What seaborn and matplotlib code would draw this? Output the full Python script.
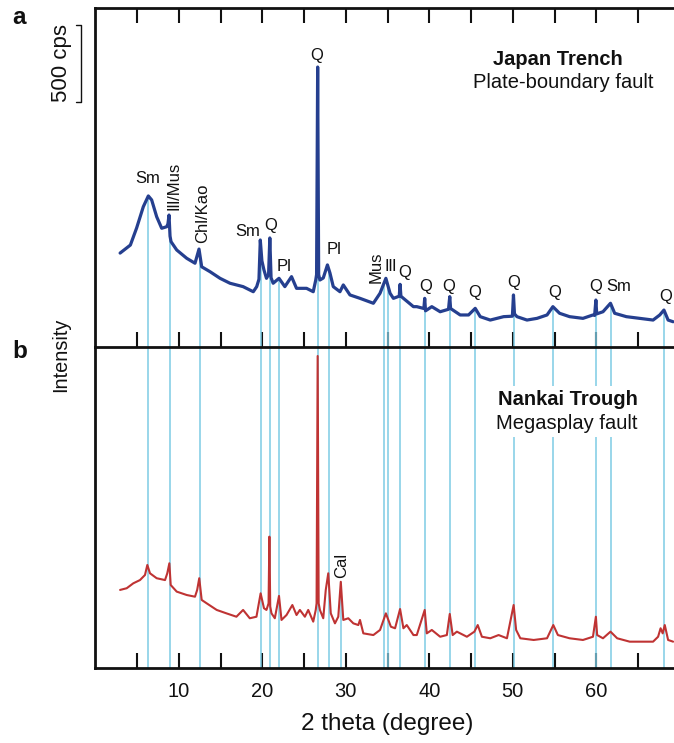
import numpy as np
import pandas as pd
import matplotlib
matplotlib.use("Agg")
import matplotlib.pyplot as plt
from matplotlib.transforms import blended_transform_factory
import seaborn as sns

# ---------------- data ----------------
theta_a = [2.97, 4.2, 4.95, 5.75, 6.35, 6.75, 7.35, 7.95, 8.55, 8.7, 8.83, 8.95, 9.07, 9.75,
           10.95, 11.94, 12.42, 12.74, 13.74, 14.94, 16.13, 17.7, 18.92, 19.33, 19.6, 19.76,
           19.95, 20.2, 20.5, 20.75, 20.9, 21.05, 21.3, 22.0, 22.7, 23.5, 24.1, 25.3, 26.1,
           26.4, 26.5, 26.63, 26.75, 26.9, 27.3, 27.8, 28.1, 28.5, 29.3, 29.7, 30.5, 31.7,
           33.3, 34.1, 34.8, 35.3, 35.7, 36.4, 36.5, 36.6, 36.9, 38.1, 38.5, 39.35, 39.45,
           39.55, 40.3, 41.3, 42.3, 42.45, 42.55, 43.7, 44.7, 45.5, 46.1, 47.3, 48.9, 49.95,
           50.08, 50.2, 50.5, 51.7, 52.9, 54.1, 54.8, 55.6, 56.8, 58.4, 59.6, 59.8, 59.95,
           60.05, 60.8, 61.7, 62.2, 63.6, 65.2, 66.8, 67.6, 68.1, 68.6, 69.2]
counts_a = [610, 662, 773, 911, 981, 955, 846, 771, 781, 800, 857, 720, 684, 630,
            576, 544, 636, 521, 489, 446, 414, 392, 359, 392, 440, 695,
            560, 500, 446, 470, 708, 450, 414, 446, 392, 457, 381, 381, 359,
            435, 470, 1818, 470, 435, 448, 533, 481, 392, 359, 403, 338, 316,
            284, 349, 446, 349, 316, 330, 407, 330, 316, 262, 262, 250, 316,
            235, 262, 229, 245, 327, 250, 208, 208, 251, 197, 175, 197, 200,
            338, 215, 197, 175, 186, 208, 262, 219, 197, 186, 208, 205, 305,
            215, 229, 284, 219, 197, 186, 175, 208, 240, 175, 164]

theta_b = [2.97, 3.76, 4.55, 5.35, 5.95, 6.23, 6.55, 7.35, 8.35, 8.62, 8.87, 9.03, 9.75,
           10.95, 11.94, 12.2, 12.45, 12.74, 13.34, 14.54, 15.7, 16.9, 17.7, 18.5, 19.3,
           19.8, 20.2, 20.5, 20.75, 20.85, 20.95, 21.1, 21.5, 22.0, 22.3, 22.9, 23.6, 24.1,
           24.5, 25.1, 25.5, 26.1, 26.4, 26.5, 26.63, 26.75, 26.9, 27.3, 27.6, 27.9, 28.2,
           28.7, 29.1, 29.4, 29.7, 30.3, 30.9, 31.5, 31.7, 32.1, 33.3, 34.1, 34.8, 35.4,
           35.9, 36.5, 36.9, 37.3, 38.1, 38.5, 39.45, 39.7, 40.3, 41.3, 42.1, 42.45, 42.8,
           43.3, 44.5, 45.4, 45.8, 46.3, 47.3, 48.3, 49.3, 50.1, 50.4, 50.9, 52.5, 54.1,
           54.85, 55.4, 56.8, 58.4, 59.6, 59.95, 60.1, 60.8, 61.7, 62.5, 64.0, 65.6, 66.8,
           67.4, 67.7, 67.95, 68.2, 68.6, 69.2]
counts_b = [507, 518, 550, 571, 604, 669, 615, 583, 571, 615, 680, 539, 496,
            474, 463, 507, 583, 442, 420, 377, 355, 333, 377, 323, 333,
            485, 388, 377, 420, 853, 400, 355, 323, 468, 312, 344, 409, 344,
            377, 333, 377, 301, 377, 420, 2026, 420, 377, 323, 507, 615, 355,
            290, 333, 560, 312, 323, 290, 279, 312, 225, 214, 247, 355, 268,
            258, 383, 258, 279, 214, 214, 377, 225, 247, 203, 214, 351, 214,
            236, 203, 236, 279, 203, 193, 214, 193, 409, 247, 193, 182, 193,
            279, 214, 193, 182, 203, 333, 214, 193, 236, 193, 171, 171, 171,
            203, 258, 225, 279, 182, 171]

peak_theta = [6.3, 8.9, 12.5, 19.8, 20.9, 22.0, 26.63, 28.0, 34.6, 35.0, 36.5,
              39.5, 42.5, 45.5, 50.1, 54.85, 59.96, 61.76, 68.14]
cal_theta = [29.4]

scale_cps = 500

# annotation layout: (text, theta, intensity, rotation)
labels_a = [("Sm", 6.31, 1097, 0), ("Ill/Mus", 9.43, 1046, 90), ("Chl/Kao", 12.9, 870, 90),
            ("Sm", 18.29, 753, 0), ("Q", 21.04, 792, 0), ("Pl", 22.6, 520, 0),
            ("Q", 26.55, 1896, 0), ("Pl", 28.58, 636, 0), ("Mus", 33.6, 520, 90),
            ("Ill", 35.4, 520, 0), ("Q", 37.09, 481, 0), ("Q", 39.6, 396, 0),
            ("Q", 42.36, 396, 0), ("Q", 45.47, 357, 0), ("Q", 50.14, 422, 0),
            ("Q", 55.05, 357, 0), ("Q", 59.96, 396, 0), ("Sm", 62.7, 390, 0),
            ("Q", 68.35, 331, 0)]
labels_b = [("Cal", 29.55, 669, 90)]

# ---------------- styling ----------------
sns.set_theme(style="ticks")
plt.rcParams['font.family'] = ['Liberation Sans', 'DejaVu Sans']
plt.rcParams['text.color'] = '#111111'

BLUE = "#253f8f"
RED = "#bf3333"
CYAN = "#7dcbe4"
INK = '#111111'

W, H = 674, 743
fig = plt.figure(figsize=(W / 100, H / 100), dpi=100)
x0 = 95.3
ax_b = fig.add_axes([x0 / W, 1 - 668 / H, 1 - x0 / W, 321 / H])
ax_a = fig.add_axes([x0 / W, 1 - 347 / H, 1 - x0 / W, 339 / H])

xmax = (W - x0) / 8.35
for ax in (ax_a, ax_b):
    ax.set_facecolor('none')
    ax.set_xlim(0, xmax)
    ax.set_yticks([])
    ax.spines['right'].set_visible(False)
    for s in ('left', 'bottom', 'top'):
        ax.spines[s].set_linewidth(2.0)
        ax.spines[s].set_color(INK)
ax_b.spines['top'].set_visible(False)
ax_a.set_ylim(0, 339 * 6.494)
ax_b.set_ylim(0, 321 * 6.494)

ticks = list(range(5, 70, 5))
ax_a.set_xticks(ticks)
ax_a.tick_params(axis='x', direction='in', top=True, bottom=True, labelbottom=False,
                 length=11, width=1.5, color=INK)
ax_b.set_xticks(ticks)
ax_b.set_xticklabels([str(t) if t % 10 == 0 else "" for t in ticks])
ax_b.tick_params(axis='x', direction='in', top=False, bottom=True, length=11, width=1.5,
                 color=INK, labelsize=14.5, pad=10, labelcolor=INK)

# reference lines
top_a = np.interp(peak_theta, theta_a, counts_a)
ax_a.vlines(peak_theta, 0, top_a, color=CYAN, lw=1.1, zorder=1)
ax_b.vlines(peak_theta, 0, ax_b.get_ylim()[1], color=CYAN, lw=1.1, zorder=1)
ax_b.vlines(cal_theta, 0, np.interp(cal_theta, theta_b, counts_b), color=CYAN, lw=1.1, zorder=1)

df_a = pd.DataFrame({"theta": theta_a, "counts": counts_a})
df_b = pd.DataFrame({"theta": theta_b, "counts": counts_b})
sns.lineplot(data=df_a, x="theta", y="counts", ax=ax_a, color=BLUE, lw=2.3,
             sort=False, estimator=None, zorder=2)
sns.lineplot(data=df_b, x="theta", y="counts", ax=ax_b, color=RED, lw=1.5,
             sort=False, estimator=None, zorder=2)
for ax in (ax_a, ax_b):
    ax.set_xlabel("")
    ax.set_ylabel("")

for txt, tx, ty, rot in labels_a:
    ax_a.text(tx, ty, txt, ha='center', va='center', rotation=rot, fontsize=12, color=INK)
for txt, tx, ty, rot in labels_b:
    ax_b.text(tx, ty, txt, ha='center', va='center', rotation=rot, fontsize=12, color=INK)

# panel titles
ax_a.text(0.80, 0.847, "Japan Trench", transform=ax_a.transAxes, ha='center', va='center',
          fontsize=14.5, fontweight='bold', color=INK)
ax_a.text(0.808, 0.779, "Plate-boundary fault", transform=ax_a.transAxes, ha='center',
          va='center', fontsize=14.5, color=INK)
bb = dict(facecolor='white', edgecolor='none', pad=3)
ax_b.text(0.817, 0.835, "Nankai Trough", transform=ax_b.transAxes, ha='center', va='center',
          fontsize=14.5, fontweight='bold', color=INK, bbox=bb, zorder=5)
ax_b.text(0.814, 0.763, "Megasplay fault", transform=ax_b.transAxes, ha='center',
          va='center', fontsize=14.5, color=INK, bbox=bb, zorder=5)

# panel letters and axis labels
fig.text(19 / W, 1 - 18 / H, "a", fontsize=17.5, fontweight='bold', ha='center', va='center', color=INK)
fig.text(20 / W, 1 - 352 / H, "b", fontsize=17.5, fontweight='bold', ha='center', va='center', color=INK)
fig.text(61 / W, 1 - 355 / H, "Intensity", rotation=90, fontsize=14.3, ha='center', va='center', color=INK)
fig.text(387 / W, 1 - 724 / H, "2 theta (degree)", fontsize=17.5, ha='center', va='center', color=INK)

# 500 cps scale bar
tr = blended_transform_factory(fig.transFigure, ax_a.transData)
y_hi = (347 - 25) * 6.494
y_lo = y_hi - scale_cps
xb, xt = 80.5 / W, 76 / W
ax_a.plot([xt, xb, xb, xt], [y_hi, y_hi, y_lo, y_lo], transform=tr, clip_on=False,
          color=INK, lw=1.0)
ax_a.text(62 / W, (y_hi + y_lo) / 2, f"{scale_cps} cps", transform=tr, rotation=90,
          fontsize=16, ha='center', va='center', color=INK)

fig.savefig("out.png", dpi=100)
